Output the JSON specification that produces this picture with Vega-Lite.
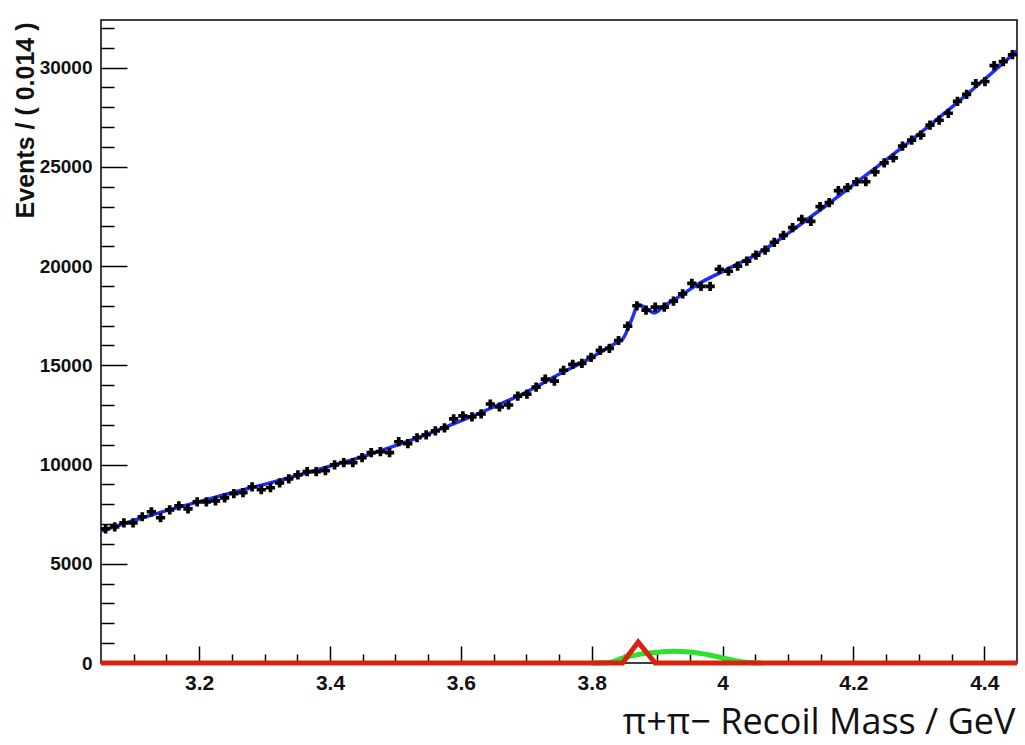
{
  "$schema": "https://vega.github.io/schema/vega-lite/v6.json",
  "width": 916,
  "height": 643,
  "autosize": {"type": "none"},
  "padding": {"left": 101, "top": 20, "right": 8, "bottom": 82},
  "background": "#ffffff",
  "config": {
    "view": {"stroke": "#000000", "strokeWidth": 1.5},
    "axis": {"grid": false, "domain": false, "tickColor": "#000000", "tickWidth": 1.5, "labelColor": "#111111", "titleColor": "#111111"}
  },
  "datasets": {
    "hist": [
      {"x": 3.057, "n": 6760}, {"x": 3.071, "n": 6860}, {"x": 3.085, "n": 7060}, {"x": 3.099, "n": 7060},
      {"x": 3.113, "n": 7370}, {"x": 3.127, "n": 7620}, {"x": 3.141, "n": 7320}, {"x": 3.155, "n": 7720},
      {"x": 3.169, "n": 7920}, {"x": 3.183, "n": 7770}, {"x": 3.197, "n": 8120}, {"x": 3.211, "n": 8120},
      {"x": 3.225, "n": 8170}, {"x": 3.239, "n": 8320}, {"x": 3.253, "n": 8530}, {"x": 3.267, "n": 8580},
      {"x": 3.281, "n": 8880}, {"x": 3.295, "n": 8730}, {"x": 3.309, "n": 8830}, {"x": 3.323, "n": 9080},
      {"x": 3.337, "n": 9280}, {"x": 3.351, "n": 9480}, {"x": 3.365, "n": 9640}, {"x": 3.379, "n": 9640},
      {"x": 3.393, "n": 9690}, {"x": 3.407, "n": 9980}, {"x": 3.421, "n": 10100}, {"x": 3.435, "n": 10100},
      {"x": 3.449, "n": 10350}, {"x": 3.463, "n": 10600}, {"x": 3.477, "n": 10650}, {"x": 3.491, "n": 10600},
      {"x": 3.505, "n": 11150}, {"x": 3.519, "n": 11050}, {"x": 3.533, "n": 11350}, {"x": 3.547, "n": 11500},
      {"x": 3.561, "n": 11700}, {"x": 3.575, "n": 11850}, {"x": 3.589, "n": 12300}, {"x": 3.603, "n": 12450},
      {"x": 3.617, "n": 12400}, {"x": 3.631, "n": 12550}, {"x": 3.645, "n": 13050}, {"x": 3.659, "n": 12900},
      {"x": 3.673, "n": 13000}, {"x": 3.687, "n": 13450}, {"x": 3.701, "n": 13550}, {"x": 3.715, "n": 13900},
      {"x": 3.729, "n": 14300}, {"x": 3.743, "n": 14200}, {"x": 3.757, "n": 14750}, {"x": 3.771, "n": 15050},
      {"x": 3.785, "n": 15100}, {"x": 3.799, "n": 15400}, {"x": 3.813, "n": 15750}, {"x": 3.827, "n": 15850},
      {"x": 3.841, "n": 16250}, {"x": 3.855, "n": 16970}, {"x": 3.869, "n": 18000}, {"x": 3.883, "n": 17780},
      {"x": 3.897, "n": 17930}, {"x": 3.911, "n": 17930}, {"x": 3.925, "n": 18230}, {"x": 3.939, "n": 18600},
      {"x": 3.953, "n": 19130}, {"x": 3.967, "n": 18980}, {"x": 3.981, "n": 18980}, {"x": 3.995, "n": 19840},
      {"x": 4.009, "n": 19740}, {"x": 4.023, "n": 20000}, {"x": 4.037, "n": 20250}, {"x": 4.051, "n": 20550},
      {"x": 4.065, "n": 20800}, {"x": 4.079, "n": 21200}, {"x": 4.093, "n": 21550}, {"x": 4.107, "n": 21940},
      {"x": 4.121, "n": 22350}, {"x": 4.135, "n": 22250}, {"x": 4.149, "n": 23000}, {"x": 4.163, "n": 23200},
      {"x": 4.177, "n": 23800}, {"x": 4.191, "n": 23950}, {"x": 4.205, "n": 24250}, {"x": 4.219, "n": 24250},
      {"x": 4.233, "n": 24750}, {"x": 4.247, "n": 25200}, {"x": 4.261, "n": 25450}, {"x": 4.275, "n": 26050},
      {"x": 4.289, "n": 26350}, {"x": 4.303, "n": 26600}, {"x": 4.317, "n": 27100}, {"x": 4.331, "n": 27350},
      {"x": 4.345, "n": 27700}, {"x": 4.359, "n": 28300}, {"x": 4.373, "n": 28650}, {"x": 4.387, "n": 29200},
      {"x": 4.401, "n": 29300}, {"x": 4.415, "n": 30100}, {"x": 4.429, "n": 30300}, {"x": 4.443, "n": 30650}
    ],
    "fit": [
      {"x": 3.05, "y": 6650}, {"x": 3.1, "y": 7180}, {"x": 3.15, "y": 7680}, {"x": 3.2, "y": 8130},
      {"x": 3.25, "y": 8580}, {"x": 3.3, "y": 9000}, {"x": 3.35, "y": 9450}, {"x": 3.4, "y": 9920},
      {"x": 3.45, "y": 10400}, {"x": 3.5, "y": 10950}, {"x": 3.55, "y": 11550}, {"x": 3.6, "y": 12200},
      {"x": 3.65, "y": 12900}, {"x": 3.7, "y": 13650}, {"x": 3.75, "y": 14550}, {"x": 3.8, "y": 15400},
      {"x": 3.82, "y": 15790}, {"x": 3.84, "y": 16190}, {"x": 3.848, "y": 16355}, {"x": 3.86, "y": 17215},
      {"x": 3.872, "y": 18065}, {"x": 3.884, "y": 17845}, {"x": 3.896, "y": 17640}, {"x": 3.91, "y": 17980},
      {"x": 3.925, "y": 18280}, {"x": 3.94, "y": 18600}, {"x": 3.955, "y": 18930}, {"x": 3.97, "y": 19230},
      {"x": 3.985, "y": 19480}, {"x": 4.0, "y": 19720}, {"x": 4.02, "y": 20060}, {"x": 4.05, "y": 20550},
      {"x": 4.1, "y": 21650}, {"x": 4.15, "y": 22850}, {"x": 4.2, "y": 24100}, {"x": 4.25, "y": 25350},
      {"x": 4.3, "y": 26650}, {"x": 4.35, "y": 28000}, {"x": 4.4, "y": 29400}, {"x": 4.45, "y": 30850}
    ],
    "broad": [
      {"x": 3.8, "y": 0}, {"x": 3.825, "y": 20}, {"x": 3.848, "y": 250},
      {"x": 3.87, "y": 420}, {"x": 3.9, "y": 540}, {"x": 3.925, "y": 590}, {"x": 3.95, "y": 560},
      {"x": 3.976, "y": 430}, {"x": 4.0, "y": 260}, {"x": 4.02, "y": 110}, {"x": 4.04, "y": 20},
      {"x": 4.06, "y": 0}
    ],
    "narrow": [
      {"x": 3.05, "y": 0}, {"x": 3.847, "y": 0}, {"x": 3.871, "y": 1050}, {"x": 3.897, "y": 0}, {"x": 4.45, "y": 0}
    ]
  },
  "layer": [
    {
      "data": {"name": "broad"},
      "mark": {"type": "line", "color": "#2fe02f", "strokeWidth": 5, "interpolate": "monotone"},
      "encoding": {
        "x": {
          "field": "x", "type": "quantitative",
          "scale": {"domain": [3.05, 4.45], "nice": false, "zero": false},
          "axis": {
            "title": "π+π− Recoil Mass / GeV",
            "titleFont": "Open Sans", "titleFontSize": 36, "titleFontWeight": "normal",
            "titleAnchor": "end", "titleAlign": "right", "titleBaseline": "alphabetic",
            "titleX": 914, "titleY": 70,
            "tickCount": 200,
            "values": [3.1, 3.15, 3.2, 3.25, 3.3, 3.35, 3.4, 3.45, 3.5, 3.55, 3.6, 3.65, 3.7, 3.75, 3.8, 3.85, 3.9, 3.95, 4.0, 4.05, 4.1, 4.15, 4.2, 4.25, 4.3, 4.35, 4.4],
            "tickSize": {"condition": {"test": "abs(datum.value*5-round(datum.value*5))<0.001", "value": -17}, "value": -9},
            "labelExpr": "abs(datum.value*5-round(datum.value*5))<0.001 ? (datum.value==4 ? '4' : format(datum.value,'.1f')) : ''",
            "labelFont": "Liberation Sans", "labelFontWeight": "bold", "labelFontSize": 21,
            "labelPadding": 26, "labelFlush": false, "labelOverlap": false, "labelBound": false
          }
        },
        "y": {
          "field": "y", "type": "quantitative",
          "scale": {"domain": [0, 32400], "nice": false, "zero": true},
          "axis": {
            "title": "Events / ( 0.014 )",
            "titleFont": "Liberation Sans", "titleFontSize": 25, "titleFontWeight": "bold",
            "titleAngle": 270, "titleAlign": "right", "titleBaseline": "middle",
            "titleX": -76, "titleY": 2,
            "tickCount": 200,
            "values": [0, 1000, 2000, 3000, 4000, 5000, 6000, 7000, 8000, 9000, 10000, 11000, 12000, 13000, 14000, 15000, 16000, 17000, 18000, 19000, 20000, 21000, 22000, 23000, 24000, 25000, 26000, 27000, 28000, 29000, 30000, 31000, 32000],
            "tickSize": {"condition": {"test": "datum.value % 5000 == 0", "value": -26}, "value": -13},
            "labelExpr": "datum.value % 5000 == 0 ? format(datum.value, 'd') : ''",
            "labelFont": "Liberation Sans", "labelFontWeight": "bold", "labelFontSize": 19,
            "labelPadding": 35, "labelFlush": false, "labelOverlap": false, "labelBound": false
          }
        }
      }
    },
    {
      "data": {"name": "fit"},
      "mark": {"type": "line", "color": "#1e2cff", "strokeWidth": 3.5, "interpolate": "monotone"},
      "encoding": {
        "x": {"field": "x", "type": "quantitative"},
        "y": {"field": "y", "type": "quantitative"}
      }
    },
    {
      "data": {"name": "narrow"},
      "mark": {"type": "line", "color": "#d8220e", "strokeWidth": 5},
      "encoding": {
        "x": {"field": "x", "type": "quantitative"},
        "y": {"field": "y", "type": "quantitative"}
      }
    },
    {
      "data": {"name": "hist"},
      "mark": {"type": "point", "shape": "cross", "filled": true, "color": "#000000", "size": 85, "opacity": 1},
      "encoding": {
        "x": {"field": "x", "type": "quantitative"},
        "y": {"field": "n", "type": "quantitative"}
      }
    }
  ]
}
